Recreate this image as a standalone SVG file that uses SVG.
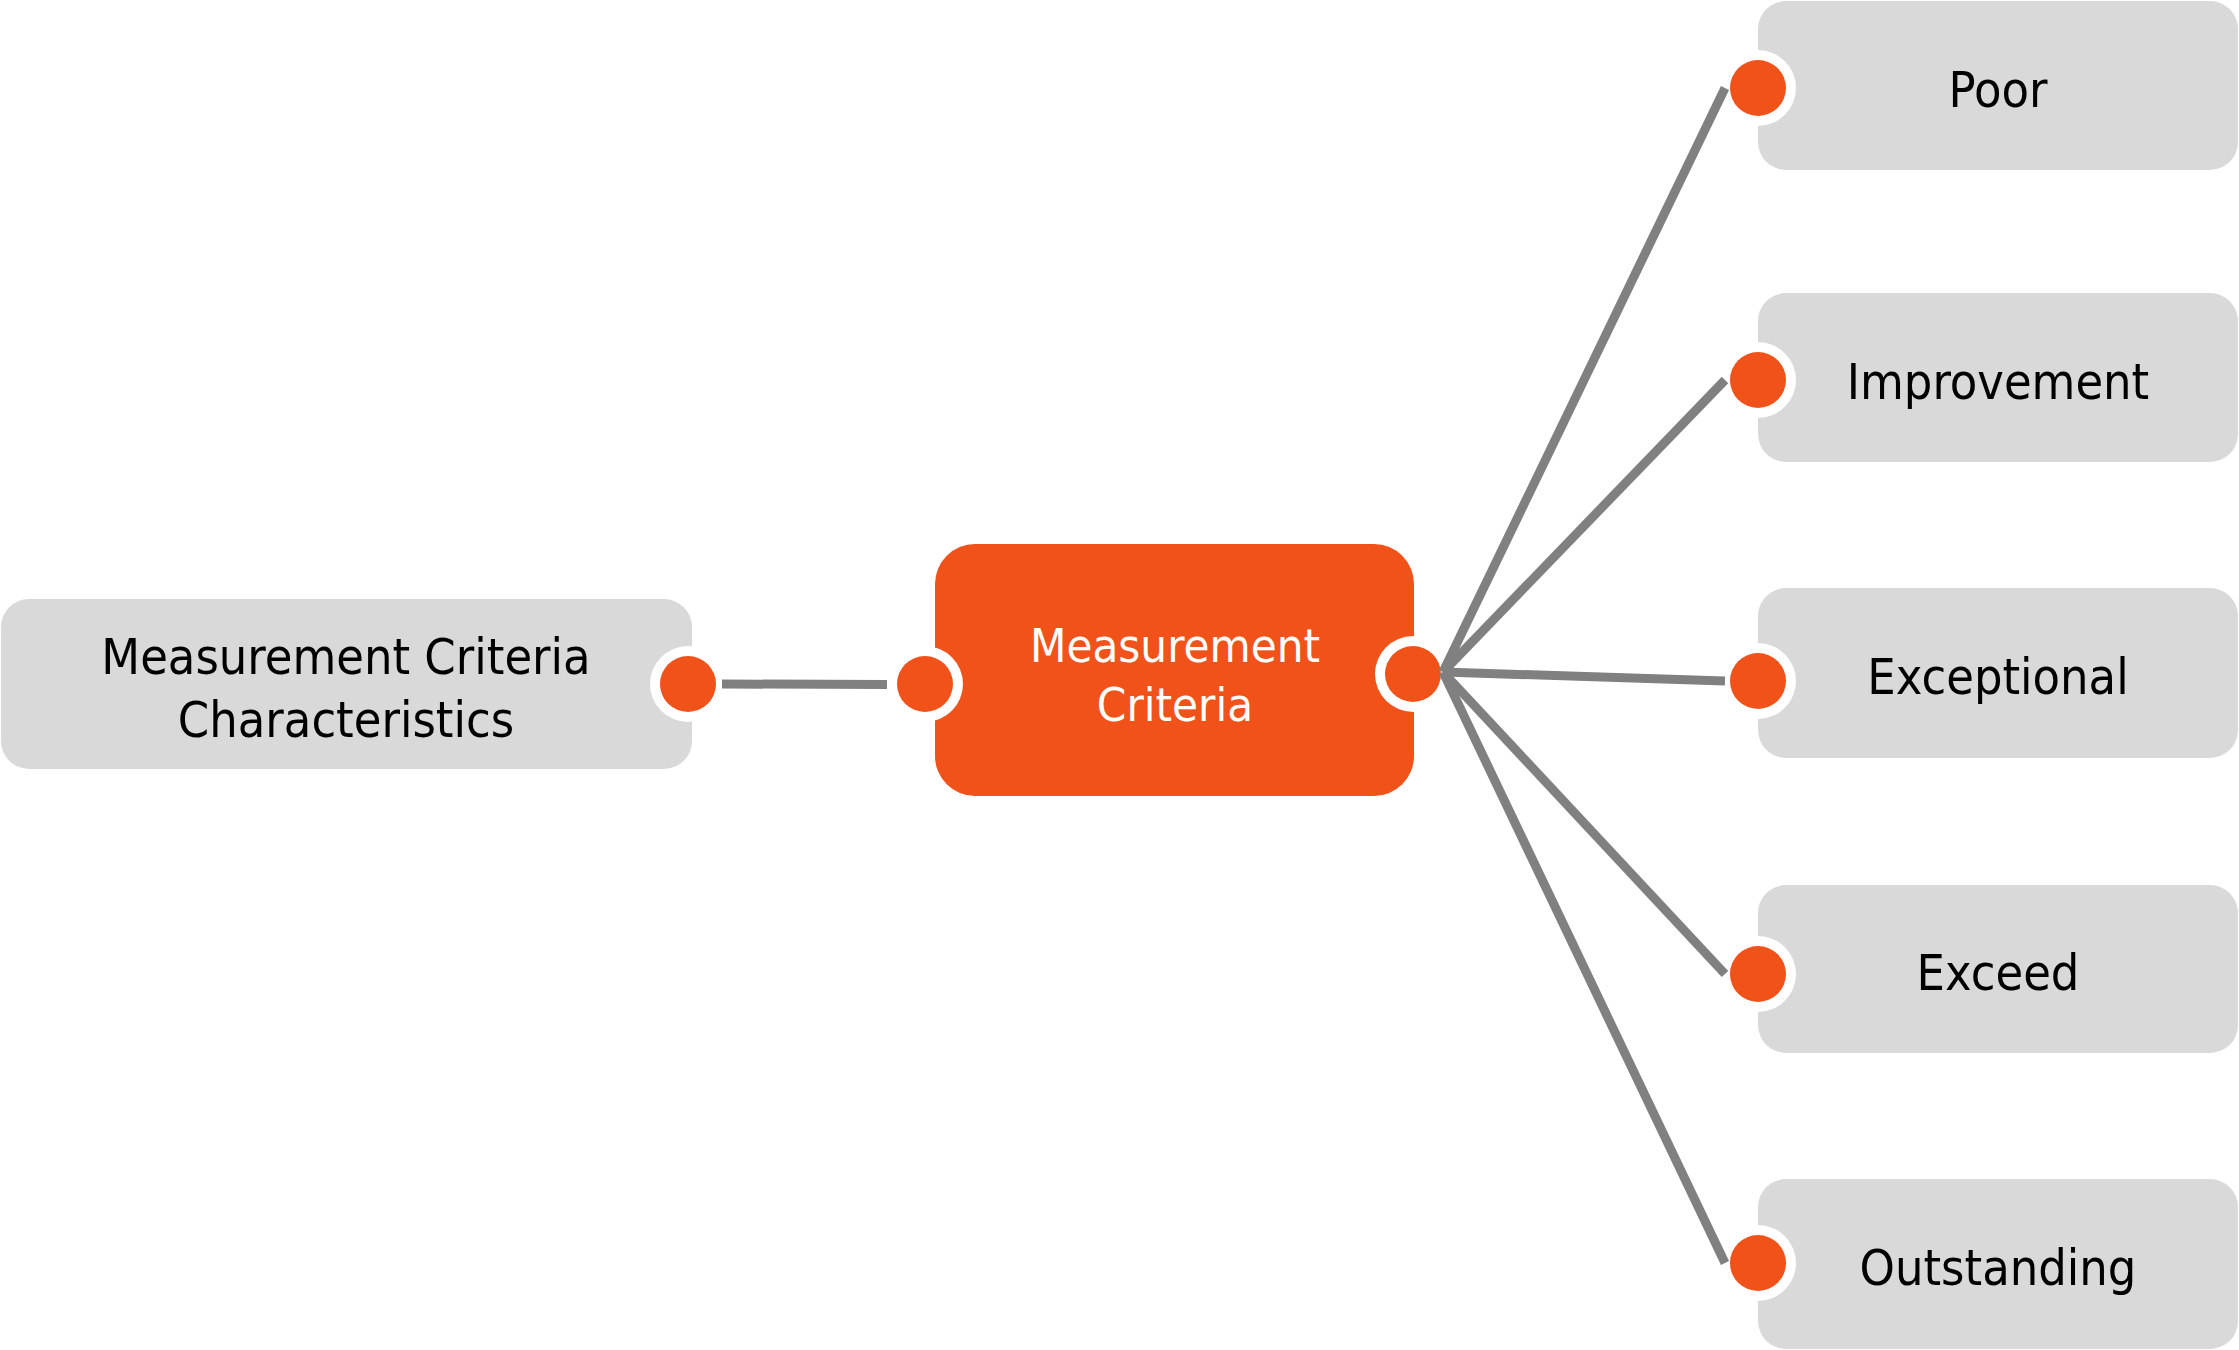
<svg xmlns="http://www.w3.org/2000/svg" width="2239" height="1350" viewBox="0 0 2239 1350">
<style>
.box{fill:#D9D9D9}
.main{fill:#F05219}
.ring{fill:#FFFFFF}
.dot{fill:#F05219}
.lbl{font-family:"DejaVu Sans Condensed","DejaVu Sans",sans-serif;font-size:50px;fill:#000000;text-anchor:middle}
.wlbl{font-family:"DejaVu Sans Condensed","DejaVu Sans",sans-serif;font-size:47px;fill:#FFFFFF;text-anchor:middle}
.con{stroke:#808080;stroke-width:9;fill:none;stroke-linecap:butt}
</style>
<rect width="2239" height="1350" fill="#FFFFFF"/>
<g id="node-characteristics">
<rect class="box" x="1" y="599" width="691" height="170" rx="28"/>
<circle class="ring" cx="688" cy="684" r="38"/>
<circle class="dot" cx="688" cy="684" r="28"/>
<text class="lbl" x="346" y="674">Measurement Criteria</text>
<text class="lbl" x="346" y="737">Characteristics</text>
</g>
<g id="node-criteria">
<rect class="main" x="935" y="544" width="479" height="252" rx="40"/>
<circle class="ring" cx="925" cy="684" r="38"/>
<circle class="dot" cx="925" cy="684" r="28"/>
<circle class="ring" cx="1413" cy="674" r="38"/>
<circle class="dot" cx="1413" cy="674" r="28"/>
<text class="wlbl" x="1175" y="662">Measurement</text>
<text class="wlbl" x="1175" y="721">Criteria</text>
</g>
<g id="node-poor">
<rect class="box" x="1758" y="1" width="480" height="169" rx="28"/>
<circle class="ring" cx="1758" cy="88" r="38"/>
<circle class="dot" cx="1758" cy="88" r="28"/>
<text class="lbl" x="1998" y="107">Poor</text>
</g>
<g id="node-improvement">
<rect class="box" x="1758" y="293" width="480" height="169" rx="28"/>
<circle class="ring" cx="1758" cy="380" r="38"/>
<circle class="dot" cx="1758" cy="380" r="28"/>
<text class="lbl" x="1998" y="399">Improvement</text>
</g>
<g id="node-exceptional">
<rect class="box" x="1758" y="588" width="480" height="170" rx="28"/>
<circle class="ring" cx="1758" cy="681" r="38"/>
<circle class="dot" cx="1758" cy="681" r="28"/>
<text class="lbl" x="1998" y="694">Exceptional</text>
</g>
<g id="node-exceed">
<rect class="box" x="1758" y="885" width="480" height="168" rx="28"/>
<circle class="ring" cx="1758" cy="974" r="38"/>
<circle class="dot" cx="1758" cy="974" r="28"/>
<text class="lbl" x="1998" y="990">Exceed</text>
</g>
<g id="node-outstanding">
<rect class="box" x="1758" y="1179" width="480" height="170" rx="28"/>
<circle class="ring" cx="1758" cy="1263" r="38"/>
<circle class="dot" cx="1758" cy="1263" r="28"/>
<text class="lbl" x="1998" y="1285">Outstanding</text>
</g>
<g id="connectors">
<line class="con" x1="722" y1="684" x2="887" y2="684.5"/>
<line class="con" x1="1443" y1="672" x2="1725" y2="88"/>
<line class="con" x1="1443" y1="672" x2="1725" y2="380"/>
<line class="con" x1="1443" y1="672" x2="1725" y2="681"/>
<line class="con" x1="1443" y1="672" x2="1725" y2="974"/>
<line class="con" x1="1443" y1="672" x2="1725" y2="1263"/>
</g>
</svg>
